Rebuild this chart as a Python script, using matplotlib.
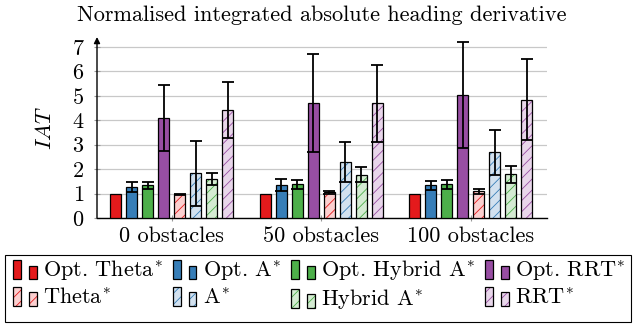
import numpy as np
import matplotlib
matplotlib.use("Agg")
import matplotlib.pyplot as plt
from matplotlib.patches import Rectangle, Patch
from matplotlib.legend_handler import HandlerBase

plt.rcParams["font.family"] = ["cmr10", "DejaVu Serif"]
plt.rcParams["mathtext.fontset"] = "cm"
plt.rcParams["axes.formatter.use_mathtext"] = True
plt.rcParams["hatch.linewidth"] = 0.6

FS = 16

# data
groups = ["0 obstacles", "50 obstacles", "100 obstacles"]
series = [r"Opt. Theta$^{\!*}$", r"Opt. A$^{\!*}$", r"Opt. Hybrid A$^{\!*}$", r"Opt. RRT$^{\!*}$",
          r"Theta$^{\!*}$", r"A$^{\!*}$", r"Hybrid A$^{\!*}$", r"RRT$^{\!*}$"]
opt_theta = [1.0, 1.0, 1.0]
opt_astar = [1.28, 1.35, 1.34]
opt_hybrid = [1.33, 1.38, 1.38]
opt_rrt = [4.08, 4.69, 5.03]
theta = [0.98, 1.05, 1.09]
astar = [1.82, 2.29, 2.68]
hybrid = [1.59, 1.77, 1.78]
rrt = [4.42, 4.69, 4.84]
opt_theta_err = [0.0, 0.0, 0.0]
opt_astar_err = [0.2, 0.25, 0.19]
opt_hybrid_err = [0.13, 0.19, 0.19]
opt_rrt_err = [1.36, 2.0, 2.18]
theta_err = [0.02, 0.05, 0.1]
astar_err = [1.33, 0.82, 0.91]
hybrid_err = [0.24, 0.3, 0.34]
rrt_err = [1.13, 1.58, 1.65]

values = [opt_theta, opt_astar, opt_hybrid, opt_rrt, theta, astar, hybrid, rrt]
errors = [opt_theta_err, opt_astar_err, opt_hybrid_err, opt_rrt_err,
          theta_err, astar_err, hybrid_err, rrt_err]

main_colors = ["#e41a1c", "#377eb8", "#4daf4a", "#984ea3"]
pale_colors = ["#fbcfcf", "#d2e1ef", "#d4ebd2", "#e8d6ea"]

fig = plt.figure(figsize=(6.33, 3.24), dpi=100)
ax = fig.add_axes([97 / 633, 1 - 218 / 324, 450 / 633, 180 / 324])

x = np.arange(len(groups))
step = 0.107
width = 0.074
for i, (vals, errs) in enumerate(zip(values, errors)):
    pos = x + (i - 3.5) * step
    c = main_colors[i % 4]
    if i < 4:
        ax.bar(pos, vals, width, color=c, edgecolor="black", linewidth=0.9, zorder=3)
    else:
        ax.bar(pos, vals, width, color=pale_colors[i % 4], edgecolor=c,
               hatch="///", linewidth=0, zorder=3)
        ax.bar(pos, vals, width, fill=False, edgecolor="black", linewidth=0.9, zorder=3)
    if any(e > 0 for e in errs):
        ax.errorbar(pos, vals, yerr=errs, fmt="none", ecolor="black",
                    elinewidth=1.3, capsize=4.5, capthick=1.3, zorder=4)

ax.set_xlim(-0.5, 2.51)
ax.set_ylim(0, 7.36)
ax.set_yticks(range(8))
ax.set_xticks(x)
ax.set_xticklabels(groups, fontsize=FS)
ax.tick_params(axis="y", labelsize=FS, direction="inout", length=4, color="#999999", pad=7)
ax.tick_params(axis="x", direction="inout", length=4, color="#999999", pad=4)
ax.yaxis.grid(True, color="#c8c8c8", linewidth=0.9, zorder=0)
ax.set_axisbelow(True)
for s in ["top", "right", "left"]:
    ax.spines[s].set_visible(False)
ax.spines["bottom"].set_linewidth(1.0)
ax.annotate("", xy=(-0.5, 7.4), xytext=(-0.5, 0), xycoords="data",
            arrowprops=dict(arrowstyle="-|>", color="black", lw=1.0,
                            mutation_scale=9, shrinkA=0, shrinkB=0),
            annotation_clip=False)
ax.set_ylabel("$IAT$", fontsize=FS, labelpad=12)
ax.set_title("Normalised integrated absolute heading derivative", fontsize=FS, pad=12)


class TwoBarHandler(HandlerBase):
    def create_artists(self, legend, orig_handle, xdescent, ydescent,
                       width, height, fontsize, trans):
        fc = orig_handle.get_facecolor()
        hatch = orig_handle.get_hatch()
        hc = orig_handle.hatch_col
        bw = width * 0.33
        arts = []
        y0 = -ydescent - height * 0.12
        for x0, h in [(0, height * 1.2), (width * 0.68, height * 0.86)]:
            if hatch:
                arts.append(Rectangle((x0 - xdescent, y0), bw, h, facecolor=fc, edgecolor=hc,
                                      hatch=hatch, linewidth=0, transform=trans))
                arts.append(Rectangle((x0 - xdescent, y0), bw, h, fill=False,
                                      edgecolor="black", linewidth=0.9, transform=trans))
            else:
                arts.append(Rectangle((x0 - xdescent, y0), bw, h, facecolor=fc,
                                      edgecolor="black", linewidth=0.9, transform=trans))
        return arts


handles = []
for i in range(8):
    if i < 4:
        p = Patch(facecolor=main_colors[i])
        p.hatch_col = main_colors[i]
    else:
        p = Patch(facecolor=pale_colors[i % 4], hatch="///")
        p.hatch_col = main_colors[i % 4]
    handles.append(p)

# legend fills column-wise, so interleave to get row-wise order
order = [0, 4, 1, 5, 2, 6, 3, 7]
fig.legend([handles[k] for k in order], [series[k] for k in order],
           handler_map={Patch: TwoBarHandler()},
           loc="upper left", bbox_to_anchor=(13 / 633, 1 - 259 / 324), ncol=4,
           frameon=False, fontsize=FS, handlelength=1.05, handletextpad=0.3,
           columnspacing=0.45, labelspacing=0.2, borderpad=0.0, borderaxespad=0.0)
fig.patches.append(Rectangle((4.5 / 633, 1 - 321.5 / 324), 626 / 633, 67 / 324,
                             transform=fig.transFigure, fill=False,
                             edgecolor="black", linewidth=0.8))

fig.savefig("out.png", dpi=100)
